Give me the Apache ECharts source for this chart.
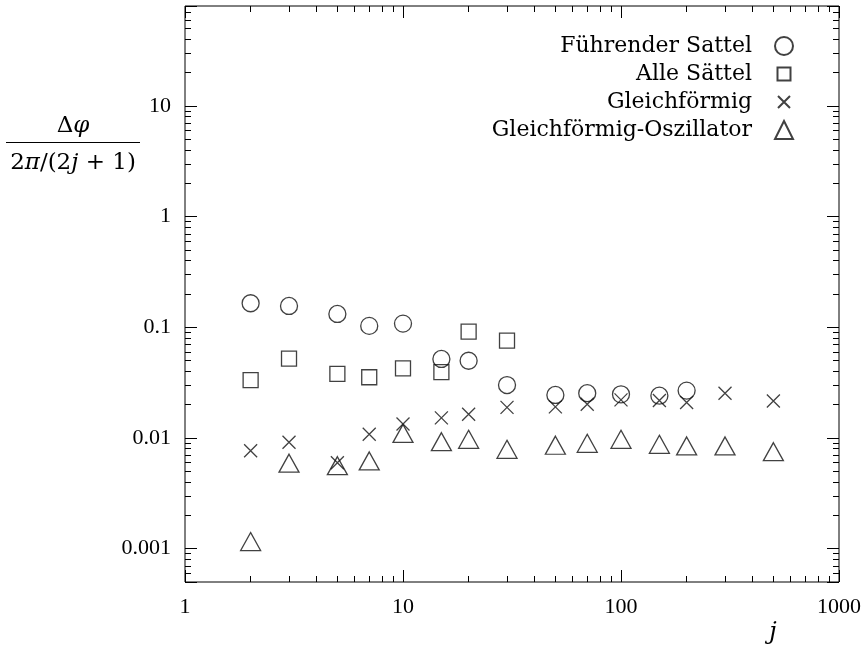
<!DOCTYPE html>
<html><head><meta charset="utf-8">
<script src="https://cdn.jsdelivr.net/npm/echarts@6/dist/echarts.min.js"></script>
<style>html,body{margin:0;padding:0;background:#fff}#c{width:866px;height:654px}</style>
</head><body><div id="c"></div>
<script>
// ---- data ----
const jValues = [2, 3, 5, 7, 10, 15, 20, 30, 50, 70, 100, 150, 200, 300, 500];
const seriesNames = ['Führender Sattel', 'Alle Sättel', 'Gleichförmig', 'Gleichförmig-Oszillator'];
const fuehrenderSattel = [0.165, 0.156, 0.132, 0.103, 0.108, 0.0518, 0.0499, 0.0301, 0.0245, 0.0254, 0.0248, 0.0241, 0.0268];
const alleSaettel = [0.0334, 0.0521, 0.0379, 0.0354, 0.0426, 0.0393, 0.0913, 0.0757];
const gleichfoermig = [0.00768, 0.00915, 0.00598, 0.0108, 0.0134, 0.0152, 0.0164, 0.0189, 0.0191, 0.0202, 0.0221, 0.0218, 0.0209, 0.0254, 0.0216];
const oszillator = [0.00116, 0.00592, 0.00562, 0.00620, 0.0110, 0.00926, 0.00973, 0.00791, 0.00860, 0.00896, 0.00973, 0.00877, 0.00847, 0.00847, 0.00752];
const xTickLabels = ['1', '10', '100', '1000'];
const yTickLabels = ['0.001', '0.01', '0.1', '1', '10'];
const xName = 'j';

const chart = echarts.init(document.getElementById('c'), null, { renderer: 'canvas' });
const INK = '#111';
const TICK_FONT = 'Liberation Serif';
const TEXT_FONT = 'DejaVu Serif';

const CROSS = 'path://M0,0L10,10M10,0L0,10';
const CROSS_LEGEND = 'path://M-3,-3M0,0L12,12M12,0L0,12M15,15';
const SQUARE_LEGEND = 'path://M-2.5,-2.5M0,0L13,0L13,13L0,13ZM15.5,15.5';

function fmt(labels) {
  return function (v) {
    const l = labels.find(s => Math.abs(Number(s) / v - 1) < 1e-6);
    return l || '';
  };
}
function axis(pos, showLabel, labels, min, max) {
  return {
    type: 'log', logBase: 10, min: min, max: max, position: pos,
    axisLine: { show: false },
    axisTick: { show: true, inside: true, length: 12, lineStyle: { color: '#000', width: 1 } },
    minorTick: { show: true, splitNumber: 9, length: 6, lineStyle: { color: '#000', width: 1 } },
    axisLabel: { show: showLabel, margin: 14, fontFamily: TICK_FONT, fontSize: 22, color: '#000',
      formatter: fmt(labels), showMinLabel: true, showMaxLabel: true },
    splitLine: { show: false }, minorSplitLine: { show: false }
  };
}
function pts(vals) { return vals.map((v, i) => [jValues[i], v]); }
const base = { type: 'scatter', xAxisIndex: 0, yAxisIndex: 0,
  itemStyle: { color: 'rgba(0,0,0,0)', borderColor: INK, borderWidth: 1.3 },
  emphasis: { disabled: true }, animation: false };

chart.setOption({
  animation: false,
  grid: { left: 185, right: 27, top: 6, bottom: 72, show: true, borderColor: '#000', borderWidth: 1, backgroundColor: 'transparent' },
  xAxis: [axis('bottom', true, xTickLabels, 1, 1000), axis('top', false, xTickLabels, 1, 1000)],
  yAxis: [axis('left', true, yTickLabels, 0.0005, 80), axis('right', false, yTickLabels, 0.0005, 80)],
  legend: {
    orient: 'vertical', right: 67, top: 30, align: 'right',
    itemWidth: 18, itemHeight: 18, itemGap: 6,
    textStyle: { fontFamily: TEXT_FONT, fontSize: 22, color: '#000', padding: [0, 18, 0, 0] },
    data: [
      { name: seriesNames[0], icon: 'circle' },
      { name: seriesNames[1], icon: SQUARE_LEGEND },
      { name: seriesNames[2], icon: CROSS_LEGEND },
      { name: seriesNames[3], icon: 'triangle' }
    ],
    selectedMode: false
  },
  series: [
    Object.assign({}, base, { name: seriesNames[0], symbol: 'circle', symbolSize: 17, data: pts(fuehrenderSattel) }),
    Object.assign({}, base, { name: seriesNames[1], symbol: 'rect', symbolSize: 15, data: pts(alleSaettel) }),
    Object.assign({}, base, { name: seriesNames[2], symbol: CROSS, symbolSize: 13, data: pts(gleichfoermig) }),
    Object.assign({}, base, { name: seriesNames[3], symbol: 'triangle', symbolSize: [20, 18], data: pts(oszillator) })
  ],
  graphic: [
    { type: 'text', x: 73, y: 126, style: { text: '{n|Δ}{i|φ}', align: 'center', verticalAlign: 'middle',
      rich: { n: { fontFamily: TEXT_FONT, fontSize: 23, fill: '#000' }, i: { fontFamily: TEXT_FONT, fontSize: 23, fontStyle: 'italic', fill: '#000' } } } },
    { type: 'line', shape: { x1: 6, y1: 142.5, x2: 140, y2: 142.5 }, style: { stroke: '#000', lineWidth: 1 } },
    { type: 'text', x: 73, y: 163, style: { text: '{n|2}{i|π}{n|/(2}{i|j}{n| + 1)}', align: 'center', verticalAlign: 'middle',
      rich: { n: { fontFamily: TEXT_FONT, fontSize: 23, fill: '#000' }, i: { fontFamily: TEXT_FONT, fontSize: 23, fontStyle: 'italic', fill: '#000' } } } },
    { type: 'text', x: 773, y: 633, style: { text: xName, fontFamily: TEXT_FONT, fontSize: 24, fontStyle: 'italic', fill: '#000', align: 'center', verticalAlign: 'middle' } }
  ]
});
</script></body></html>
